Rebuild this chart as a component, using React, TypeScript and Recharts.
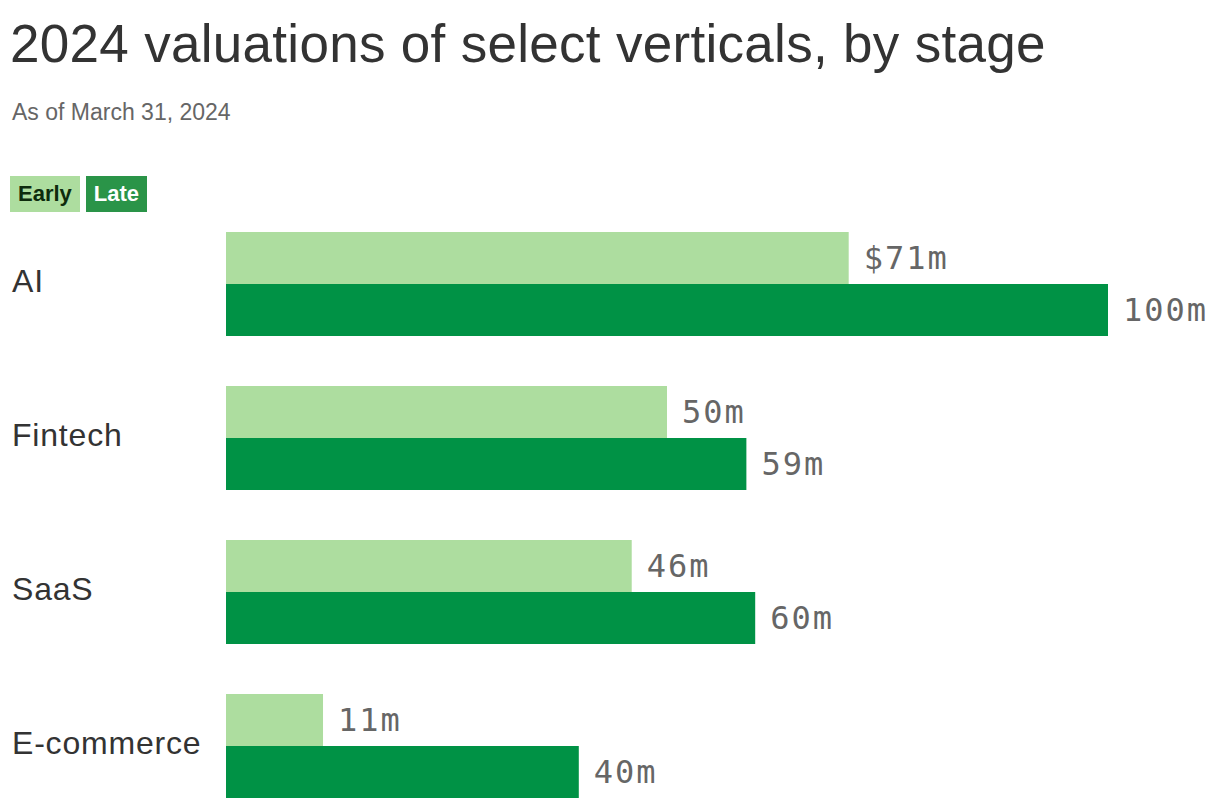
import React from "react"
import { BarChart, Bar, XAxis, YAxis, LabelList } from "recharts"

const categories = ["AI", "Fintech", "SaaS", "E-commerce"]
const earlyValues = [70.6, 50, 46, 11]
const lateValues = [100, 59, 60, 40]

const EARLY_COLOR = "#addd9f"
const LATE_COLOR = "#009245"
const SANS = "'Liberation Sans', Arial, sans-serif"
const MONO = "'DejaVu Sans Mono', monospace"

const chartData = categories.map((name, i) => ({
  name,
  early: earlyValues[i],
  late: lateValues[i],
}))

const formatValue = (value: number, index: number, series: string) => {
  const text = `${Math.round(value)}m`
  // only the first label carries the currency sign
  return series === "early" && index === 0 ? `$${text}` : text
}

const makeLabel = (series: string) => (props: any) => {
  const { x, y, width, height, value, index } = props
  return (
    <text
      x={x + width + 15}
      y={y + height / 2}
      dominantBaseline="central"
      fill="#666"
      fontFamily={MONO}
      fontSize={32}
      letterSpacing={2}
    >
      {formatValue(value, index, series)}
    </text>
  )
}

const CategoryTick = (props: any) => {
  const { y, payload } = props
  return (
    <text
      x={12}
      y={y - 3}
      dominantBaseline="central"
      fill="#333"
      fontFamily={SANS}
      fontSize={32}
      letterSpacing={0.8}
    >
      {payload.value}
    </text>
  )
}

export default function App() {
  return (
    <div style={{ position: "relative", width: 1220, height: 808, overflow: "hidden", background: "#fff" }}>
      <style>{"body{margin:0}"}</style>
      <div
        style={{
          position: "absolute",
          left: 10,
          top: 18,
          fontFamily: SANS,
          fontSize: 53,
          lineHeight: "52px",
          letterSpacing: 0.3,
          color: "#333",
          whiteSpace: "nowrap",
        }}
      >
        2024 valuations of select verticals, by stage
      </div>
      <div
        style={{
          position: "absolute",
          left: 12,
          top: 99,
          fontFamily: SANS,
          fontSize: 23,
          lineHeight: "26px",
          color: "#666",
        }}
      >
        As of March 31, 2024
      </div>
      <div style={{ position: "absolute", left: 10, top: 176, display: "flex", gap: 6, fontFamily: SANS }}>
        <div
          style={{
            background: EARLY_COLOR,
            color: "#0d2b0d",
            fontWeight: 700,
            fontSize: 22,
            height: 36,
            lineHeight: "36px",
            padding: "0 8px",
          }}
        >
          Early
        </div>
        <div
          style={{
            background: "#2a9448",
            color: "#fff",
            fontWeight: 700,
            fontSize: 22,
            height: 36,
            lineHeight: "36px",
            padding: "0 8px",
          }}
        >
          Late
        </div>
      </div>
      <div style={{ position: "absolute", left: 0, top: 207 }}>
        <BarChart
          width={1220}
          height={616}
          data={chartData}
          layout="vertical"
          margin={{ top: 0, right: 112, left: 0, bottom: 0 }}
          barGap={0}
        >
          <XAxis type="number" domain={[0, 100]} hide />
          <YAxis
            type="category"
            dataKey="name"
            width={226}
            axisLine={false}
            tickLine={false}
            tick={<CategoryTick />}
          />
          <Bar dataKey="early" fill={EARLY_COLOR} barSize={52} isAnimationActive={false}>
            <LabelList dataKey="early" content={makeLabel("early")} />
          </Bar>
          <Bar dataKey="late" fill={LATE_COLOR} barSize={52} isAnimationActive={false}>
            <LabelList dataKey="late" content={makeLabel("late")} />
          </Bar>
        </BarChart>
      </div>
    </div>
  )
}
